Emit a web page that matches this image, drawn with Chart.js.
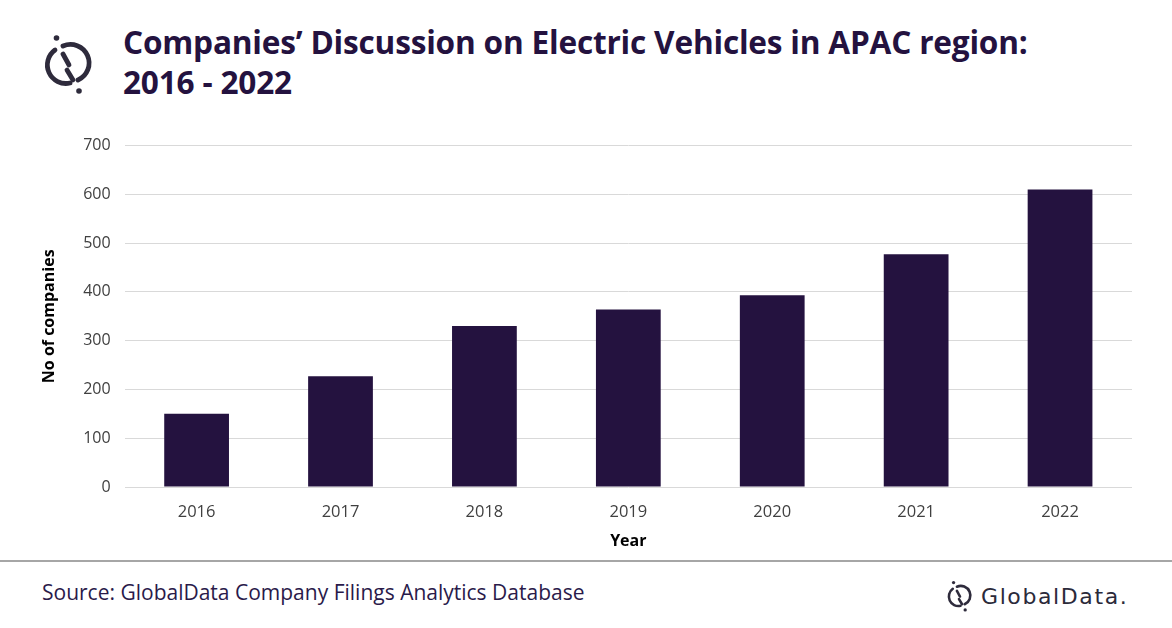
<!DOCTYPE html>
<html>
<head>
<meta charset="utf-8">
<script src="https://cdn.jsdelivr.net/npm/chart.js@4.4.0/dist/chart.umd.min.js"></script>
<style>
  html,body{margin:0;padding:0;background:#fff;}
  body{width:1172px;height:628px;position:relative;overflow:hidden;font-family:"Open Sans","Noto Sans",sans-serif;}
  #title{position:absolute;left:123px;top:22px;color:#24123f;font-weight:700;font-size:31.6px;line-height:40px;letter-spacing:-0.2px;white-space:nowrap;}
  #logo{position:absolute;left:36px;top:28px;}
  #wrap{position:absolute;left:40px;top:122px;width:1092px;height:433px;}
  #divider{position:absolute;left:0;top:560px;width:1172px;height:2px;background:#a6a6a6;}
  #source{position:absolute;left:42px;top:578px;color:#2a1a4a;font-size:21px;white-space:nowrap;}
  #brand{position:absolute;left:943px;top:575px;display:flex;align-items:center;color:#2b2a3a;font-size:22px;letter-spacing:1.6px;font-family:"DejaVu Sans",sans-serif;white-space:nowrap;}
</style>
</head>
<body>
<svg id="logo" width="64" height="72" viewBox="36 28 64 72">
  <g fill="none" stroke="#2e2b3c" stroke-width="4.8" stroke-linecap="round">
    <path d="M55 50 A18.5 18.5 0 0 0 70 83"/>
    <path d="M63 46 A18.5 18.5 0 0 1 78 80"/>
    <path d="M63 54 L69 65"/>
    <path d="M67 70 L73 80"/>
  </g>
  <circle cx="56.5" cy="38" r="2.8" fill="#2e2b3c"/>
  <circle cx="79" cy="91" r="2.8" fill="#2e2b3c"/>
</svg>
<div id="title">Companies’ Discussion on Electric Vehicles in APAC region:<br>2016 - 2022</div>
<div id="wrap"><canvas id="c"></canvas></div>
<div id="divider"></div>
<div id="source">Source: GlobalData Company Filings Analytics Database</div>
<div id="brand">
  <svg width="33" height="42" viewBox="36 28 64 72" style="margin-right:5px">
    <g fill="none" stroke="#2e2b3c" stroke-width="5" stroke-linecap="round">
      <path d="M55 50 A18.5 18.5 0 0 0 70 83"/>
      <path d="M63 46 A18.5 18.5 0 0 1 78 80"/>
      <path d="M63 54 L69 65"/>
      <path d="M67 70 L73 80"/>
    </g>
    <circle cx="56.5" cy="38" r="3.2" fill="#2e2b3c"/>
    <circle cx="79" cy="91" r="3.2" fill="#2e2b3c"/>
  </svg>
  <span>GlobalData.</span>
</div>
<script>
const categories = ["2016","2017","2018","2019","2020","2021","2022"];
const companies = [150, 227, 330, 364, 393, 477, 610];
const yTicks = [0,100,200,300,400,500,600,700];

new Chart(document.getElementById('c'), {
  type: 'bar',
  data: {
    labels: categories,
    datasets: [{
      data: companies,
      backgroundColor: '#24123f',
      categoryPercentage: 0.9,
      barPercentage: 0.5
    }]
  },
  options: {
    responsive: true,
    maintainAspectRatio: false,
    animation: false,
    plugins: { legend: { display: false }, tooltip: { enabled: false } },
    layout: { padding: { left: 0, right: 0, top: 5, bottom: 0 } },
    scales: {
      x: {
        grid: { display: false },
        border: { display: false },
        ticks: { color: '#404040', font: { size: 16.5, family: 'Open Sans' }, padding: 7 },
        title: { display: true, text: 'Year', color: '#000', font: { size: 16, weight: 'bold', family: 'Open Sans' }, padding: { top: 3 } }
      },
      y: {
        min: 0, max: 700,
        afterBuildTicks: (ax) => { ax.ticks = yTicks.map(v => ({ value: v })); },
        grid: { color: '#d9d9d9', lineWidth: 1, drawTicks: false },
        border: { display: false },
        ticks: { color: '#404040', font: { size: 16, family: 'Open Sans' }, padding: 14 },
        title: { display: true, text: 'No of companies', color: '#000', font: { size: 16, weight: 'bold', family: 'Open Sans' }, padding: { top: 0, bottom: 10 } }
      }
    }
  }
});
</script>
</body>
</html>
